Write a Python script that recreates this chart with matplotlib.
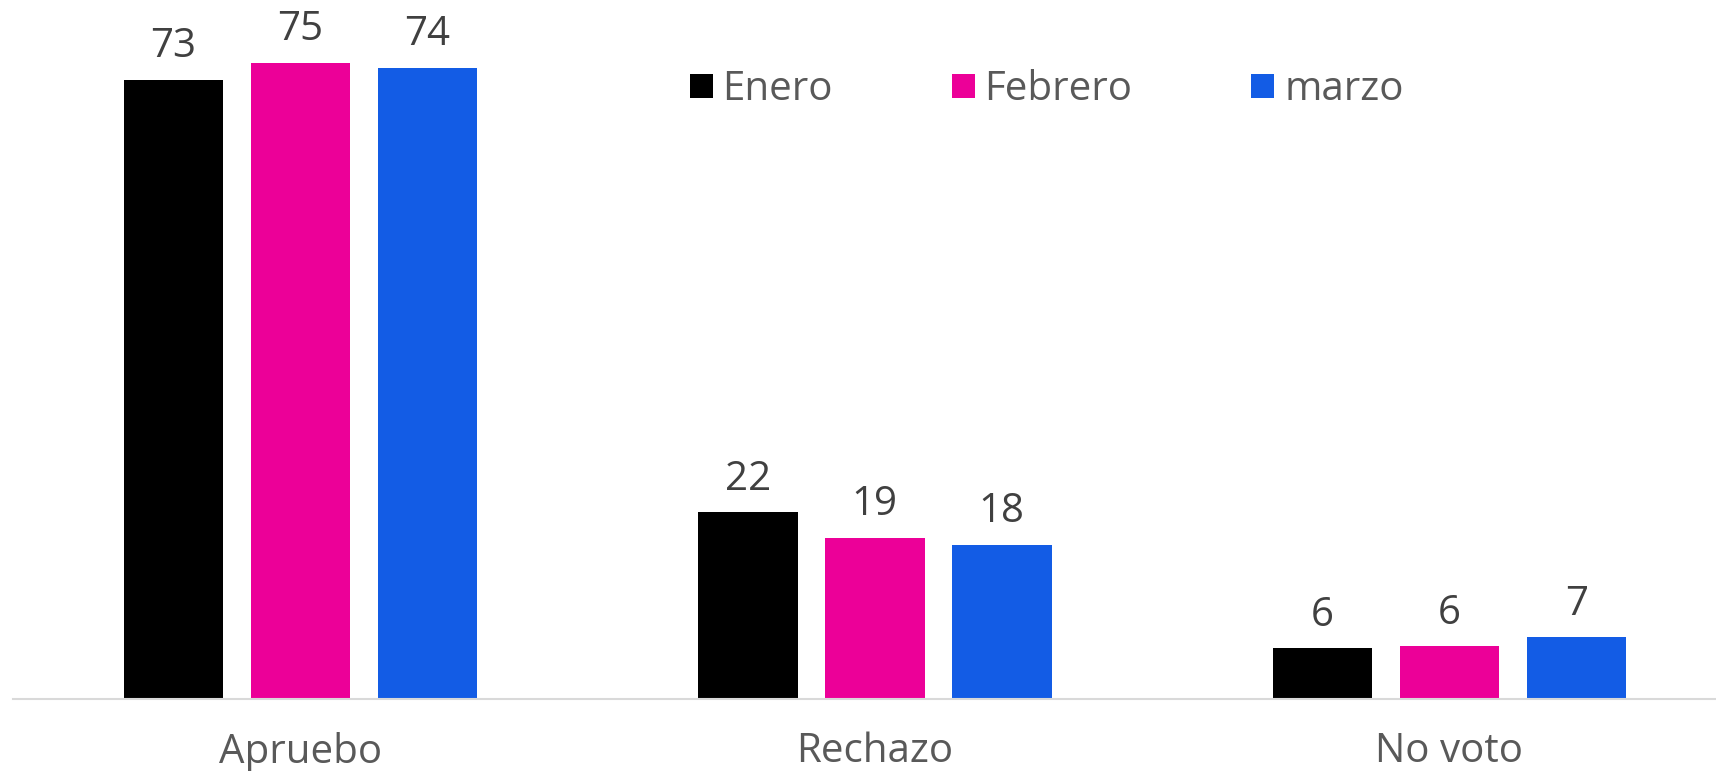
import numpy as np
import matplotlib
matplotlib.use("Agg")
import matplotlib.pyplot as plt
from matplotlib.patches import Patch

plt.rcParams['font.family'] = ['Open Sans', 'DejaVu Sans']

# data
categories = ['Apruebo', 'Rechazo', 'No voto']
series = ['Enero', 'Febrero', 'marzo']
enero = [73.0, 22.0, 6.0]
febrero = [75.0, 19.0, 6.2]
marzo = [74.4, 18.2, 7.3]
colors = ['#000000', '#EC0098', '#135CE5']

fig = plt.figure(figsize=(17.16, 7.71), dpi=100)
ax = fig.add_axes([13 / 1716, 1 - 699 / 771, 1 - 13 / 1716, 699 / 771])

x = np.arange(len(categories))
width = 0.173
step = 0.221

for i, (name, vals, col) in enumerate(zip(series, [enero, febrero, marzo], colors)):
    pos = x + (i - 1) * step
    bars = ax.bar(pos, vals, width=width, color=col, label=name, zorder=2)
    for b, v in zip(bars, vals):
        ax.annotate(f"{v:.0f}", (b.get_x() + b.get_width() / 2, v),
                    xytext=(0, 9), textcoords='offset points',
                    ha='center', va='bottom', fontsize=29, color='#404040')

ax.set_xlim(-0.5, 2.464)
ax.set_ylim(0, 82.4)

for s in ['top', 'right', 'left']:
    ax.spines[s].set_visible(False)
ax.spines['bottom'].set_color('#d9d9d9')
ax.spines['bottom'].set_linewidth(1.5)
ax.set_yticks([])
ax.set_xticks(x)
ax.set_xticklabels(categories, fontsize=29, color='#595959')
ax.tick_params(axis='x', length=0, pad=23.5)

handles = [Patch(facecolor=c) for c in colors]
fig.legend(handles, series, loc='center left',
           bbox_to_anchor=(690 / 1716, 1 - 90 / 771),
           ncol=3, frameon=False, fontsize=29, labelcolor='#595959',
           handlelength=0.56, handleheight=0.56, handletextpad=0.25,
           columnspacing=2.95, borderpad=0, borderaxespad=0)

fig.savefig('out.png', dpi=100)
